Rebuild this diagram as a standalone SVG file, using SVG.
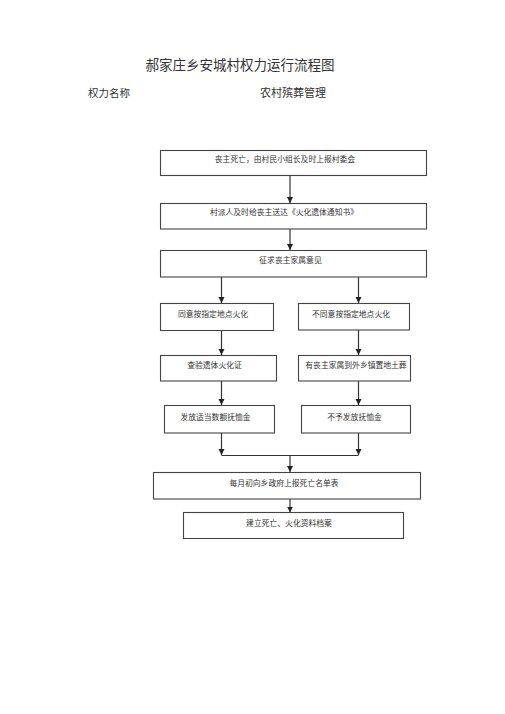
<svg xmlns="http://www.w3.org/2000/svg" width="505" height="714" viewBox="0 0 505 714">
<style>
.t{font-family:"Noto Sans CJK SC","Noto Sans",sans-serif;fill:#333;}
.bx{fill:#fff;stroke:#444;stroke-width:1.1;}
.lbl{font-size:7.8px;text-anchor:middle;}
.ln{stroke:#333;stroke-width:1.2;fill:none;}
</style>
<defs>
<marker id="ah" markerUnits="userSpaceOnUse" markerWidth="6" markerHeight="7" refX="6" refY="3" orient="auto">
<path d="M0,0 L6,3 L0,6 z" fill="#222"/>
</marker>
</defs>
<rect width="505" height="714" fill="#fff"/>
<text class="t" x="240" y="70" font-size="13.5" text-anchor="middle" fill="#222">郝家庄乡安城村权力运行流程图</text>
<text class="t" x="88" y="97" font-size="10.5">权力名称</text>
<text class="t" x="260" y="97" font-size="11">农村殡葬管理</text>

<g id="connectors">
<line class="ln" x1="290" y1="175" x2="290" y2="203" marker-end="url(#ah)"/>
<line class="ln" x1="290" y1="229" x2="290" y2="250" marker-end="url(#ah)"/>
<line class="ln" x1="221.5" y1="277" x2="221.5" y2="303" marker-end="url(#ah)"/>
<line class="ln" x1="358.5" y1="277" x2="358.5" y2="303" marker-end="url(#ah)"/>
<line class="ln" x1="221.5" y1="330" x2="221.5" y2="355" marker-end="url(#ah)"/>
<line class="ln" x1="358.5" y1="330" x2="358.5" y2="355" marker-end="url(#ah)"/>
<line class="ln" x1="221.5" y1="381" x2="221.5" y2="405" marker-end="url(#ah)"/>
<line class="ln" x1="358.5" y1="381" x2="358.5" y2="405" marker-end="url(#ah)"/>
<line class="ln" x1="221.5" y1="433" x2="221.5" y2="455" marker-end="url(#ah)"/>
<line class="ln" x1="358.5" y1="433" x2="358.5" y2="455" marker-end="url(#ah)"/>
<line class="ln" x1="221.5" y1="455.5" x2="358.5" y2="455.5"/>
<line class="ln" x1="290" y1="455.5" x2="290" y2="472" marker-end="url(#ah)"/>
<line class="ln" x1="290" y1="499" x2="290" y2="512.5" marker-end="url(#ah)"/>
</g>

<g id="n1"><rect class="bx" x="160.5" y="150.5" width="266" height="25"/><text class="t lbl" x="285" y="161.5" font-size="7.6">丧主死亡，由村民小组长及时上报村委会</text></g>
<g id="n2"><rect class="bx" x="160.5" y="203.5" width="266" height="25.5"/><text class="t lbl" x="284" y="215">村派人及时给丧主送达《火化遗体通知书》</text></g>
<g id="n3"><rect class="bx" x="160.5" y="250.5" width="266" height="26.5"/><text class="t lbl" x="290.5" y="263">征求丧主家属意见</text></g>
<g id="n4"><rect class="bx" x="160.5" y="303.5" width="113" height="27"/><text class="t lbl" x="213" y="317">同意按指定地点火化</text></g>
<g id="n5"><rect class="bx" x="298.5" y="303.5" width="111" height="26.5"/><text class="t lbl" x="351" y="317">不同意按指定地点火化</text></g>
<g id="n6"><rect class="bx" x="160.5" y="355.5" width="116" height="25.5"/><text class="t lbl" x="214.5" y="368">查验遗体火化证</text></g>
<g id="n7"><rect class="bx" x="298.5" y="355.5" width="112" height="25.5"/><text class="t lbl" x="356" y="368">有丧主家属到外乡镇置地土葬</text></g>
<g id="n8"><rect class="bx" x="164.5" y="405.5" width="110" height="27.5"/><text class="t lbl" x="215.5" y="419.5">发放适当数额抚恤金</text></g>
<g id="n9"><rect class="bx" x="301.5" y="405.5" width="109" height="27.5"/><text class="t lbl" x="354.5" y="419.5">不予发放抚恤金</text></g>
<g id="n10"><rect class="bx" x="153.5" y="472.5" width="267" height="26.5"/><text class="t lbl" x="284" y="486">每月初向乡政府上报死亡名单表</text></g>
<g id="n11"><rect class="bx" x="183.5" y="512.5" width="220" height="26"/><text class="t lbl" x="289" y="525.5">建立死亡、火化资料档案</text></g>
</svg>
